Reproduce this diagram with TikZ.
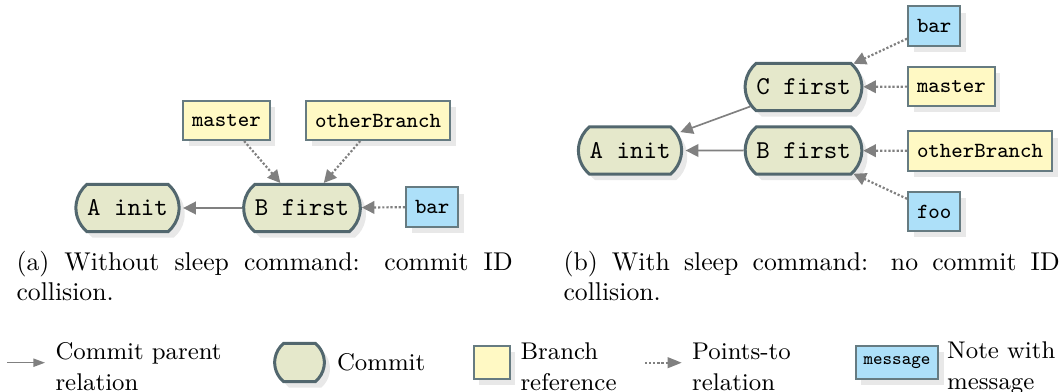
\documentclass[tikz,border=0pt]{standalone}
\usetikzlibrary{shapes.misc,shadows,arrows.meta}

\definecolor{commitfill}{HTML}{E5E8CB}
\definecolor{commitline}{HTML}{52676E}
\definecolor{branchfill}{HTML}{FFF9C4}
\definecolor{notefill}{HTML}{ADE0F9}
\definecolor{boxline}{HTML}{667B81}
\definecolor{shadowgray}{HTML}{E8E8E8}
\definecolor{linkgray}{HTML}{808080}

\tikzset{
  shadowed/.style={drop shadow={shadow xshift=2.2pt,shadow yshift=-2.4pt,fill=shadowgray,opacity=1}},
  commit/.style={rounded rectangle, rounded rectangle arc length=100,
    draw=commitline, line width=1.17pt, fill=commitfill, shadowed,
    minimum height=18.3pt, inner xsep=3.9pt, inner ysep=0pt,
    font=\fontsize{10}{12}\ttfamily},
  branch/.style={rectangle, draw=boxline, line width=0.78pt, fill=branchfill, shadowed,
    minimum height=15.2pt, inner xsep=3.5pt, inner ysep=0pt,
    font=\fontsize{8.4}{10}\ttfamily},
  note/.style={branch, fill=notefill},
  parentlink/.style={draw=linkgray, line width=0.65pt, shorten >=1pt,
    -{Triangle[length=4.9pt,width=4.9pt]}},
  pointslink/.style={draw=linkgray, line width=0.85pt, dash pattern=on 0.85pt off 0.75pt,
    -{Triangle[length=4.9pt,width=4.9pt]}},
  caption/.style={anchor=base west, text width=193pt, align=justify, inner sep=0pt,
    font=\fontsize{10}{12}\selectfont,
    execute at begin node={\hyphenpenalty=10000\relax}},
  legendtext/.style={anchor=base west, inner sep=0pt, text width=90pt, align=left,
    font=\fontsize{9.4}{12}\selectfont},
}

\begin{document}
\begin{tikzpicture}[x=0.389pt,y=-0.389pt]
\useasboundingbox (0,0) rectangle (1062,392);

% (a) history without the sleep command
\node[commit] (a1) at (127.5,208) {A init};
\node[commit] (b1) at (302,208) {B first};
\node[branch, anchor=west] (m1) at (182,120.5) {master};
\node[branch, anchor=west] (o1) at (305,120.5) {otherBranch};
\node[note, anchor=west] (bar1) at (405,207) {bar};

\draw[parentlink] (b1) -- (a1);
\draw[pointslink] (m1) -- (b1);
\draw[pointslink] (o1) -- (b1);
\draw[pointslink] (bar1) -- (b1);

% (b) history with the sleep command
\node[commit] (a2) at (630,150.5) {A init};
\node[commit] (b2) at (803.5,150.5) {B first};
\node[commit] (c2) at (803.5,87) {C first};
\node[note, anchor=west] (bar2) at (907,26) {bar};
\node[branch, anchor=west] (m2) at (907,86.5) {master};
\node[branch, anchor=west] (o2) at (907,151) {otherBranch};
\node[note, anchor=west] (foo2) at (907,211.5) {foo};

\draw[parentlink] (b2) -- (a2);
\draw[parentlink] (c2) -- (a2);
\draw[pointslink] (bar2) -- (c2);
\draw[pointslink] (m2) -- (c2);
\draw[pointslink] (o2) -- (b2);
\draw[pointslink] (foo2) -- (b2);

% captions
\node[caption] (capa) at (16,270) {(a) Without sleep command: commit ID collision.};
\node[caption] (capb) at (563,270) {(b) With sleep command: no commit ID collision.};

% legend
\coordinate (l1s) at (7,362.7);
\coordinate (l1e) at (45,362.7);
\draw[parentlink, line width=0.55pt, shorten >=0pt, -{Triangle[length=4.5pt,width=3.2pt]}] (l1s) -- (l1e);
\node[legendtext] (l1t) at (55,359.5) {Commit parent\\relation};

\node[commit, minimum height=14.8pt, inner xsep=8.4pt] (l2) at (299.5,362.5) {};
\node[legendtext] (l2t) at (336.5,370) {Commit};

\node[branch, minimum width=14pt, minimum height=12.8pt, inner xsep=0pt] (l3) at (491.7,362.5) {};
\node[legendtext] (l3t) at (520,359.5) {Branch\\reference};

\coordinate (l4s) at (645,362.7);
\coordinate (l4e) at (681.7,362.7);
\draw[pointslink, line width=0.7pt, -{Triangle[length=5.5pt,width=4.2pt]}] (l4s) -- (l4e);
\node[legendtext] (l4t) at (691.7,359.5) {Points-to\\relation};

\node[note, minimum height=12.8pt, inner xsep=3.1pt, font=\fontsize{7}{8}\ttfamily] (l5) at (897,362.5) {message};
\node[legendtext] (l5t) at (946.7,358.5) {Note with\\message};
\end{tikzpicture}
\end{document}
